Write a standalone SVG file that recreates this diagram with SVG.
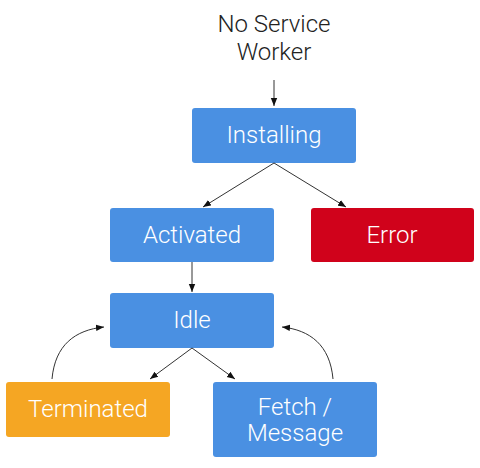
<svg xmlns="http://www.w3.org/2000/svg" width="480" height="468" viewBox="0 0 480 468">
<style>
.box{stroke:none}
.blue{fill:#4A90E2}
.red{fill:#D0021B}
.orange{fill:#F5A623}
.lbl{font-family:Roboto,"Liberation Sans",sans-serif;font-weight:300;font-size:24px;fill:#fff;text-anchor:middle}
.top{font-family:Roboto,"Liberation Sans",sans-serif;font-weight:300;font-size:24px;fill:#222;text-anchor:middle}
.c{fill:none;stroke:#333;stroke-width:1}
</style>
<defs>
<marker id="ah" viewBox="0 0 10 10" refX="10" refY="5" markerWidth="8" markerHeight="8" orient="auto" markerUnits="userSpaceOnUse">
<path d="M0,1 L10,5 L0,9 z" fill="#111"/>
</marker>
</defs>
<rect width="480" height="468" fill="#fff"/>
<g id="nsw"><text class="top" x="274" y="32">No Service</text><text class="top" x="274" y="60">Worker</text></g>
<g id="installing"><rect class="box blue" x="192" y="108" width="164" height="55" rx="3"/><text class="lbl" x="274" y="143">Installing</text></g>
<g id="activated"><rect class="box blue" x="110" y="208" width="164" height="54" rx="3"/><text class="lbl" x="192" y="243">Activated</text></g>
<g id="error"><rect class="box red" x="311" y="208" width="163" height="54" rx="3"/><text class="lbl" x="392" y="243">Error</text></g>
<g id="idle"><rect class="box blue" x="110" y="293" width="164" height="55" rx="3"/><text class="lbl" x="192" y="328">Idle</text></g>
<g id="terminated"><rect class="box orange" x="6" y="382" width="164" height="55" rx="3"/><text class="lbl" x="88" y="417">Terminated</text></g>
<g id="fetch"><rect class="box blue" x="213" y="382" width="164" height="75" rx="3"/><text class="lbl" x="295" y="415">Fetch /</text><text class="lbl" x="295" y="441">Message</text></g>
<g id="connectors">
<line class="c" x1="274" y1="80" x2="274" y2="106" marker-end="url(#ah)"/>
<line class="c" x1="274" y1="163" x2="203" y2="207" marker-end="url(#ah)"/>
<line class="c" x1="274" y1="163" x2="346" y2="207" marker-end="url(#ah)"/>
<line class="c" x1="192" y1="262" x2="192" y2="292" marker-end="url(#ah)"/>
<line class="c" x1="192" y1="348" x2="150" y2="379" marker-end="url(#ah)"/>
<line class="c" x1="192" y1="348" x2="235" y2="379" marker-end="url(#ah)"/>
<path class="c" d="M52,379 C55,345 75,330 104,327" marker-end="url(#ah)"/>
<path class="c" d="M333,379 C330,345 310,330 282,327" marker-end="url(#ah)"/>
</g>
</svg>
